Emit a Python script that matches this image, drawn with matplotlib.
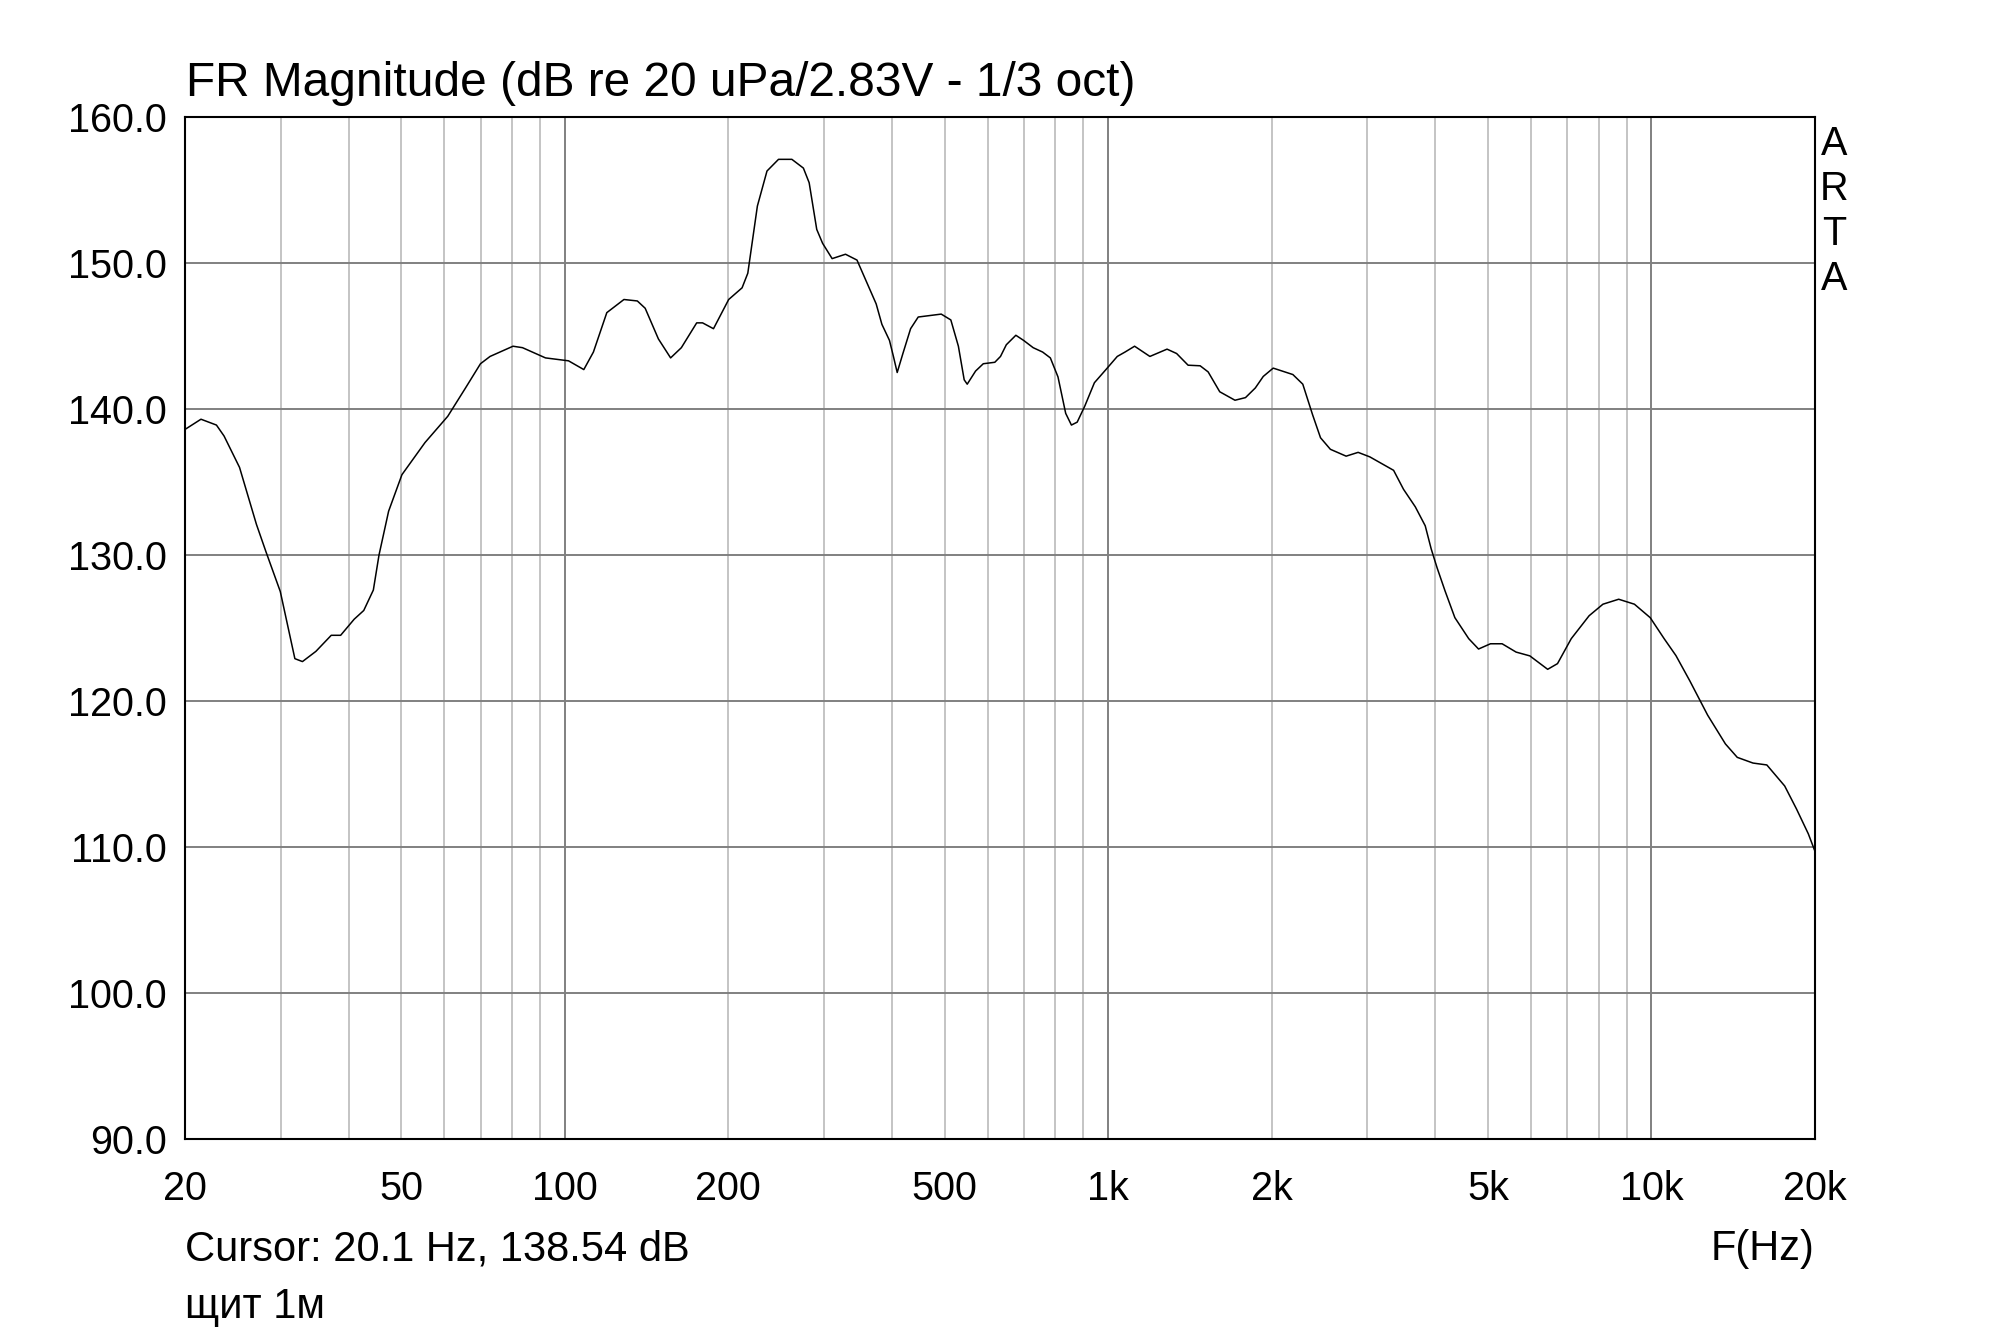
import numpy as np
import matplotlib
matplotlib.use("Agg")
import matplotlib.pyplot as plt

plt.rcParams['font.family'] = ['Liberation Sans', 'DejaVu Sans']

# FR magnitude (Hz, dB)
freq = [20.0, 21.4, 22.85, 23.6, 25.2, 27.07, 28.2, 29.95, 31.86, 32.9, 34.83, 37.17, 38.68,
        40.96, 42.66, 44.43, 45.51, 47.4, 50.15, 55.3, 60.9, 65.56, 69.96, 72.86, 80.3, 83.6,
        92.15, 101.6, 108.4, 112.9, 119.5, 128.5, 136.0, 140.6, 148.7, 156.6, 163.9, 174.9,
        179.3, 187.8, 200.3, 212.0, 217.2, 226.2, 235.6, 247.4, 261.8, 274.9, 281.7, 290.9,
        298.2, 310.5, 328.6, 345.0, 362.3, 374.2, 383.4, 395.9, 402.6, 409.1, 419.1, 433.0,
        447.2, 469.5, 493.0, 513.5, 530.2, 543.4, 550.4, 570.3, 589.2, 618.7, 633.8, 649.6,
        676.4, 698.9, 727.9, 757.7, 782.9, 808.6, 835.5, 856.0, 877.2, 905.9, 943.6, 990.8,
        1039.6, 1074.2, 1118.8, 1193.7, 1283.7, 1336.9, 1403.5, 1477, 1528, 1605, 1712, 1790,
        1866, 1930, 2013, 2188, 2282, 2379, 2460, 2565, 2742, 2885, 3032, 3353, 3497, 3676,
        3834, 3932, 4032, 4170, 4347, 4610, 4806, 5055, 5311, 5635, 5973, 6442, 6716, 7119,
        7679, 8142, 8704, 9304, 9947, 10553, 11094, 11766, 12690, 13682, 14386, 15378, 16307,
        17589, 18494, 19443, 20000]
mag = [138.6, 139.3, 138.9, 138.15, 136.0, 132.1, 130.2, 127.5, 122.9, 122.7, 123.4, 124.5, 124.5,
       125.6, 126.2, 127.6, 130.0, 133.0, 135.5, 137.7, 139.5, 141.4, 143.1, 143.6, 144.3, 144.2,
       143.5, 143.3, 142.7, 143.9, 146.6, 147.5, 147.4, 146.9, 144.8, 143.5, 144.2, 145.9,
       145.9, 145.5, 147.5, 148.3, 149.3, 153.9, 156.3, 157.1, 157.1, 156.5, 155.5, 152.3,
       151.35, 150.3, 150.6, 150.2, 148.4, 147.2, 145.8, 144.7, 143.6, 142.5, 143.8, 145.5,
       146.3, 146.4, 146.5, 146.1, 144.3, 142.0, 141.7, 142.6, 143.1, 143.2, 143.6, 144.4,
       145.05, 144.7, 144.2, 143.9, 143.5, 142.2, 139.7, 138.9, 139.1, 140.2, 141.8, 142.7,
       143.6, 143.9, 144.3, 143.6, 144.1, 143.8, 143.0, 142.96, 142.54, 141.18, 140.6, 140.78,
       141.44, 142.23, 142.8, 142.36, 141.7, 139.6, 138.03, 137.24, 136.77, 137.03, 136.72, 135.8, 134.5, 133.3,
       132.0, 130.42, 129.12, 127.54, 125.71, 124.27, 123.56, 123.92, 123.92, 123.35, 123.09, 122.17, 122.56, 124.27,
       125.84, 126.63, 126.97, 126.63, 125.71, 124.27, 123.11, 121.38, 119.03, 117.06, 116.14, 115.75, 115.62,
       114.18, 112.6, 110.9, 109.7]

xtick_vals = [20, 50, 100, 200, 500, 1000, 2000, 5000, 10000, 20000]
xtick_text = ['20', '50', '100', '200', '500', '1k', '2k', '5k', '10k', '20k']
ytick_vals = [90, 100, 110, 120, 130, 140, 150, 160]

W, H = 2000, 1331
fig = plt.figure(figsize=(W / 100, H / 100), dpi=100)
ax = fig.add_axes([185 / W, 1 - 1139 / H, 1630 / W, 1022 / H])
ax.set_xscale('log')
ax.set_xlim(20, 20000)
ax.set_ylim(90, 160)

# grid: decades darker, other multiples light
for dec in [10, 100, 1000, 10000]:
    for m in range(1, 10):
        f = dec * m
        if 20 < f < 20000:
            c = '#808080' if m == 1 else '#c4c4c4'
            ax.axvline(f, color=c, lw=1.4, zorder=1)
for v in ytick_vals[1:-1]:
    ax.axhline(v, color='#808080', lw=1.4, zorder=1)

ax.plot(freq, mag, color='black', lw=1.1, zorder=3)

ax.set_xticks(xtick_vals)
ax.set_xticklabels(xtick_text)
ax.xaxis.set_minor_locator(plt.NullLocator())
ax.set_yticks(ytick_vals)
ax.set_yticklabels(['%.1f' % v for v in ytick_vals])
ax.tick_params(axis='both', length=0, labelsize=28.5)
ax.tick_params(axis='x', pad=22)
ax.tick_params(axis='y', pad=13)
for s in ax.spines.values():
    s.set_linewidth(1.5)

fig.text(186 / W, 1 - 83 / H, 'FR Magnitude (dB re 20 uPa/2.83V - 1/3 oct)', fontsize=34.5,
         ha='left', va='center')
for i, ch in enumerate('ARTA'):
    fig.text(1834 / W, 1 - (144 + 45 * i) / H, ch, fontsize=28.5, ha='center', va='center')
fig.text(185 / W, 1 - 1249 / H, 'Cursor: 20.1 Hz, 138.54 dB', fontsize=30, ha='left', va='center')
fig.text(1815 / W, 1 - 1249 / H, 'F(Hz)', fontsize=30, ha='right', va='center')
fig.text(185 / W, 1 - 1307 / H, 'щит 1м', fontsize=30, ha='left', va='center')

fig.savefig('out.png', dpi=100)
